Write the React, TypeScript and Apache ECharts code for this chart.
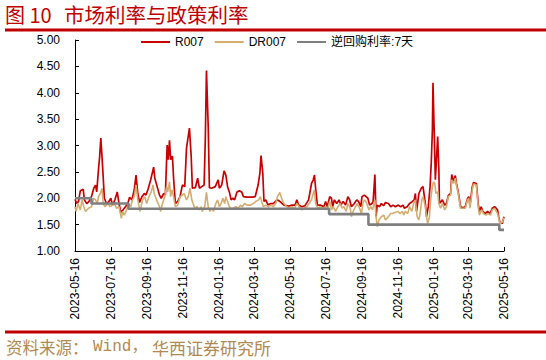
import React, { useEffect, useRef } from "react";
import * as echarts from "echarts";

const xTickLabels = [
  "2023-05-16", "2023-07-16", "2023-09-16", "2023-11-16", "2024-01-16", "2024-03-16",
  "2024-05-16", "2024-07-16", "2024-09-16", "2024-11-16", "2025-01-16", "2025-03-16", "2025-05-16",
];

const seriesNames = ["R007", "DR007", "逆回购利率:7天"];

const r007Dates = [
  "2023-05-16","2023-05-19","2023-05-22","2023-05-25","2023-05-30","2023-06-01","2023-06-05","2023-06-09","2023-06-13","2023-06-17",
  "2023-06-20","2023-06-22","2023-06-25","2023-06-27","2023-06-29","2023-07-01","2023-07-03","2023-07-05","2023-07-09","2023-07-13",
  "2023-07-16","2023-07-19","2023-07-23","2023-07-27","2023-07-30","2023-08-02","2023-08-06","2023-08-10","2023-08-14","2023-08-17",
  "2023-08-21","2023-08-25","2023-08-28","2023-08-31","2023-09-03","2023-09-07","2023-09-11","2023-09-14","2023-09-18","2023-09-22",
  "2023-09-27","2023-09-29","2023-10-03","2023-10-07","2023-10-10","2023-10-14","2023-10-17","2023-10-20","2023-10-22","2023-10-24",
  "2023-10-26","2023-10-29","2023-10-31","2023-11-03","2023-11-07","2023-11-11","2023-11-15","2023-11-19","2023-11-22","2023-11-27",
  "2023-11-30","2023-12-02","2023-12-07","2023-12-11","2023-12-14","2023-12-18","2023-12-22","2023-12-24","2023-12-26","2023-12-29",
  "2023-12-31","2024-01-04","2024-01-10","2024-01-15","2024-01-17","2024-01-21","2024-01-25","2024-01-28","2024-01-31","2024-02-03",
  "2024-02-06","2024-02-09","2024-02-12","2024-02-16","2024-02-20","2024-02-24","2024-02-27","2024-03-04","2024-03-13","2024-03-18",
  "2024-03-23","2024-03-26","2024-03-28","2024-03-31","2024-04-02","2024-04-05","2024-04-09","2024-04-13","2024-04-18","2024-04-24",
  "2024-04-28","2024-05-06","2024-05-14","2024-05-20","2024-05-25","2024-05-28","2024-05-31","2024-06-06","2024-06-11","2024-06-17",
  "2024-06-19","2024-06-22","2024-06-25","2024-06-27","2024-06-29","2024-07-02","2024-07-07","2024-07-13","2024-07-16","2024-07-19",
  "2024-07-23","2024-07-26","2024-07-28","2024-07-31","2024-08-04","2024-08-08","2024-08-11","2024-08-15","2024-08-19","2024-08-23",
  "2024-08-26","2024-08-29","2024-09-03","2024-09-07","2024-09-10","2024-09-14","2024-09-16","2024-09-20","2024-09-23","2024-09-26",
  "2024-09-29","2024-10-03","2024-10-05","2024-10-08","2024-10-10","2024-10-12","2024-10-16","2024-10-19","2024-10-23","2024-10-26",
  "2024-10-31","2024-11-04","2024-11-08","2024-11-12","2024-11-17","2024-11-21","2024-11-25","2024-11-27","2024-12-02","2024-12-06",
  "2024-12-10","2024-12-14","2024-12-16","2024-12-18","2024-12-22","2024-12-26","2024-12-29","2025-01-02","2025-01-04","2025-01-07",
  "2025-01-10","2025-01-12","2025-01-14","2025-01-15","2025-01-17","2025-01-19","2025-01-20","2025-01-23","2025-01-25","2025-01-26",
  "2025-01-31","2025-02-04","2025-02-07","2025-02-10","2025-02-14","2025-02-16","2025-02-19","2025-02-22","2025-02-24","2025-02-27",
  "2025-03-03","2025-03-07","2025-03-11","2025-03-15","2025-03-17","2025-03-19","2025-03-23","2025-03-25","2025-03-30","2025-04-02",
  "2025-04-04","2025-04-07","2025-04-10","2025-04-14","2025-04-18","2025-04-22","2025-04-26","2025-04-30","2025-05-05","2025-05-07",
  "2025-05-09","2025-05-13","2025-05-16",
];
const r007Values = [
  1.98,1.90,1.94,2.14,2.17,1.97,1.90,1.94,2.03,2.19,
  2.25,2.12,2.54,2.79,3.14,2.79,2.41,2.00,1.89,1.94,
  2.00,1.87,1.97,2.12,1.90,1.73,1.78,1.84,1.90,2.02,
  1.97,2.16,2.44,2.09,1.92,2.03,2.09,2.06,2.19,2.35,
  2.59,2.38,2.22,2.06,2.00,2.09,2.06,3.01,2.73,3.10,
  2.73,2.80,2.38,1.90,1.94,2.03,2.25,2.22,2.95,3.33,
  2.79,2.19,2.20,2.38,2.19,2.22,2.25,3.10,4.42,3.36,
  2.20,2.19,2.22,2.35,2.19,2.25,2.52,2.44,2.22,2.12,
  1.97,2.00,1.97,2.12,2.14,2.12,2.03,2.02,2.02,2.03,
  2.25,2.47,2.81,2.47,1.94,1.97,1.87,1.90,1.90,1.97,
  1.95,1.87,1.85,1.87,1.87,1.97,1.87,1.84,1.86,1.97,
  2.09,2.28,2.35,2.44,2.19,1.87,1.87,1.84,1.94,1.84,
  2.03,2.00,1.84,1.97,1.90,1.97,1.87,1.94,1.87,2.03,
  1.97,1.84,1.90,1.97,1.94,1.84,2.03,2.06,2.03,2.00,
  1.87,1.90,1.94,2.45,1.65,1.87,1.84,1.90,1.86,1.92,
  1.90,1.84,1.87,1.84,1.87,1.84,1.87,1.81,1.84,1.90,
  1.93,1.97,2.09,1.75,2.09,2.19,2.22,1.90,1.65,1.84,
  2.22,2.66,3.30,4.19,3.30,2.35,2.54,3.17,2.54,1.90,
  1.97,1.87,1.90,2.05,2.09,2.45,2.31,2.43,2.28,2.12,
  1.84,1.82,1.84,2.00,2.03,1.87,2.22,2.30,2.28,1.90,
  1.75,1.84,1.75,1.71,1.75,1.70,1.81,1.84,1.78,1.65,
  1.54,1.52,1.65,
];

const dr007Dates = [
  "2023-05-16","2023-05-18","2023-05-21","2023-05-25","2023-05-28","2023-05-31","2023-06-03","2023-06-08","2023-06-13","2023-06-17",
  "2023-06-20","2023-06-23","2023-06-25","2023-06-28","2023-07-01","2023-07-03","2023-07-06","2023-07-11","2023-07-15","2023-07-19",
  "2023-07-22","2023-07-26","2023-07-30","2023-08-03","2023-08-05","2023-08-08","2023-08-12","2023-08-15","2023-08-19","2023-08-22",
  "2023-08-25","2023-08-28","2023-08-31","2023-09-04","2023-09-08","2023-09-12","2023-09-15","2023-09-19","2023-09-23","2023-09-26",
  "2023-09-28","2023-10-02","2023-10-07","2023-10-09","2023-10-12","2023-10-16","2023-10-19","2023-10-21","2023-10-24","2023-10-26",
  "2023-10-28","2023-10-31","2023-11-03","2023-11-07","2023-11-11","2023-11-15","2023-11-18","2023-11-22","2023-11-25","2023-11-28",
  "2023-12-01","2023-12-06","2023-12-10","2023-12-14","2023-12-17","2023-12-19","2023-12-23","2023-12-26","2023-12-29","2024-01-01",
  "2024-01-04","2024-01-07","2024-01-11","2024-01-14","2024-01-17","2024-01-20","2024-01-23","2024-01-26","2024-01-28","2024-01-31",
  "2024-02-03","2024-02-06","2024-02-10","2024-02-14","2024-02-18","2024-02-22","2024-02-25","2024-02-29","2024-03-04","2024-03-10",
  "2024-03-15","2024-03-19","2024-03-24","2024-03-27","2024-03-29","2024-04-01","2024-04-05","2024-04-09","2024-04-14","2024-04-18",
  "2024-04-22","2024-04-25","2024-04-29","2024-05-03","2024-05-06","2024-05-11","2024-05-15","2024-05-20","2024-05-24","2024-05-28",
  "2024-06-01","2024-06-06","2024-06-09","2024-06-14","2024-06-18","2024-06-22","2024-06-25","2024-06-27","2024-06-29","2024-07-03",
  "2024-07-07","2024-07-11","2024-07-16","2024-07-19","2024-07-23","2024-07-26","2024-07-29","2024-08-02","2024-08-06","2024-08-10",
  "2024-08-13","2024-08-16","2024-08-20","2024-08-23","2024-08-27","2024-08-29","2024-09-02","2024-09-05","2024-09-08","2024-09-12",
  "2024-09-15","2024-09-18","2024-09-21","2024-09-24","2024-09-28","2024-10-01","2024-10-04","2024-10-08","2024-10-10","2024-10-12",
  "2024-10-15","2024-10-19","2024-10-23","2024-10-26","2024-10-31","2024-11-04","2024-11-07","2024-11-11","2024-11-16","2024-11-20",
  "2024-11-24","2024-11-26","2024-11-29","2024-12-03","2024-12-06","2024-12-10","2024-12-13","2024-12-16","2024-12-19","2024-12-22",
  "2024-12-24","2024-12-27","2024-12-29","2025-01-02","2025-01-04","2025-01-06","2025-01-09","2025-01-11","2025-01-14","2025-01-16",
  "2025-01-18","2025-01-20","2025-01-23","2025-01-25","2025-01-28","2025-01-31","2025-02-04","2025-02-07","2025-02-10","2025-02-14",
  "2025-02-16","2025-02-19","2025-02-22","2025-02-24","2025-02-27","2025-03-03","2025-03-07","2025-03-11","2025-03-15","2025-03-17",
  "2025-03-19","2025-03-23","2025-03-25","2025-03-30","2025-04-02","2025-04-04","2025-04-08","2025-04-11","2025-04-15","2025-04-19",
  "2025-04-23","2025-04-26","2025-04-30","2025-05-05","2025-05-07","2025-05-09","2025-05-13","2025-05-16",
];
const dr007Values = [
  1.84,1.75,1.90,1.78,1.97,1.84,1.75,1.81,1.84,2.00,
  1.97,1.90,2.03,2.09,2.19,1.90,1.84,1.90,1.84,1.87,
  1.90,1.81,1.84,1.62,1.75,1.68,1.78,1.90,1.84,1.97,
  2.03,2.25,1.97,1.75,1.97,2.03,1.90,2.03,2.12,2.25,
  2.09,1.97,1.84,1.75,1.90,2.03,2.22,2.12,2.31,2.03,
  2.16,2.03,1.84,1.87,2.03,2.06,2.09,1.97,2.03,2.19,
  1.97,1.81,1.84,1.78,1.84,1.75,1.84,2.11,1.84,1.75,
  1.81,1.75,1.90,1.97,1.84,1.90,2.00,1.90,2.03,1.94,
  1.84,1.81,1.81,1.84,1.81,1.87,1.84,1.90,1.87,1.87,
  1.90,1.94,1.97,2.03,1.94,1.84,1.87,1.84,1.87,1.84,
  1.90,2.03,2.11,1.97,1.90,1.84,1.82,1.84,1.81,1.90,
  1.84,1.78,1.81,1.84,1.90,1.97,2.09,2.16,1.90,1.81,
  1.84,1.81,1.84,1.78,1.94,1.78,1.84,1.75,1.84,1.90,
  1.81,1.84,1.75,1.90,1.81,1.65,1.78,1.84,1.90,1.81,
  1.71,1.93,1.97,1.90,1.78,1.84,1.78,1.97,1.65,1.46,
  1.59,1.65,1.68,1.59,1.65,1.71,1.71,1.73,1.75,1.71,
  1.75,1.68,1.75,1.71,1.84,1.75,1.90,1.97,1.65,1.59,
  1.71,1.97,2.03,1.84,1.65,1.52,1.65,1.97,2.22,2.31,
  2.28,2.09,2.12,1.90,1.81,1.90,1.78,1.84,2.03,2.06,
  2.35,2.28,2.38,2.25,2.09,1.81,1.81,1.81,1.97,2.00,
  1.81,2.16,2.27,2.25,1.84,1.68,1.78,1.71,1.68,1.71,
  1.68,1.78,1.81,1.71,1.62,1.52,1.55,1.63,
];

const policyDates = ["2023-05-16", "2023-06-13", "2023-08-15", "2024-07-22", "2024-09-27", "2025-05-08", "2025-05-16"];
const policyValues = [2.0, 1.9, 1.8, 1.7, 1.5, 1.4, 1.4];

const yMin = 1;
const yMax = 5;
const yInterval = 0.5;

const toTs = (s: string) => {
  const [y, m, d] = s.split("-").map(Number);
  return new Date(y, m - 1, d).getTime();
};
const pad = (n: number) => (n < 10 ? "0" + n : "" + n);
const fmtDate = (v: number) => {
  const d = new Date(v);
  return d.getFullYear() + "-" + pad(d.getMonth() + 1) + "-" + pad(d.getDate());
};
const pairs = (dates: string[], vals: number[]) => dates.map((d, i) => [toTs(d), vals[i]]);

const CJK = '"Noto Sans CJK SC"';
const LEGEND_FONT = '"Liberation Sans", "Noto Sans CJK SC", sans-serif';

export default function App() {
  const ref = useRef<HTMLDivElement>(null);
  useEffect(() => {
    const chart = echarts.init(ref.current!, null, { renderer: "svg", width: 546, height: 360 });
    const tickTs = xTickLabels.map(toTs);
    chart.setOption({
      animation: false,
      backgroundColor: "#ffffff",
      textStyle: { fontFamily: LEGEND_FONT },
      graphic: [
        {
          type: "text",
          x: 5,
          y: 14,
          style: { text: "图 10", fill: "#C00000", font: "20px " + CJK, verticalAlign: "middle" },
        },
        {
          type: "text",
          x: 64,
          y: 14,
          style: { text: "市场利率与政策利率", fill: "#C00000", font: "20.5px " + CJK, verticalAlign: "middle" },
        },
        { type: "rect", shape: { x: 5, y: 28.5, width: 541, height: 3 }, style: { fill: "#C00000" } },
        { type: "rect", shape: { x: 5, y: 330.5, width: 541, height: 3 }, style: { fill: "#C00000" } },
        {
          type: "text",
          x: 6,
          y: 347,
          style: { text: "资料来源：", fill: "#B08A52", font: "16.5px " + CJK, verticalAlign: "middle" },
        },
        {
          type: "text",
          x: 93,
          y: 347,
          style: { text: "Wind，", fill: "#B08A52", font: '16px "Liberation Mono", ' + CJK, verticalAlign: "middle" },
        },
        {
          type: "text",
          x: 152,
          y: 347,
          style: { text: "华西证券研究所", fill: "#B08A52", font: "17px " + CJK, verticalAlign: "middle" },
        },
      ],
      legend: {
        left: 141,
        top: 36,
        padding: 0,
        itemWidth: 29,
        itemHeight: 2,
        itemGap: 11,
        icon: "rect",
        textStyle: { fontSize: 12, color: "#000", fontFamily: LEGEND_FONT },
        data: seriesNames,
      },
      grid: { left: 75, right: 42, top: 40, bottom: 109 },
      xAxis: {
        type: "value",
        min: tickTs[0],
        max: tickTs[tickTs.length - 1],
        scale: true,
        axisLine: { show: true, lineStyle: { color: "#000", width: 1 } },
        axisTick: { show: true, inside: true, length: 4, customValues: tickTs, lineStyle: { color: "#000" } },
        axisLabel: {
          customValues: tickTs,
          rotate: 90,
          margin: 7,
          fontSize: 12,
          color: "#000",
          fontFamily: "Liberation Sans, Arial, sans-serif",
          formatter: (v: number) => fmtDate(v),
        },
        splitLine: { show: false },
      },
      yAxis: {
        type: "value",
        min: yMin,
        max: yMax,
        interval: yInterval,
        axisLine: { show: true, lineStyle: { color: "#000", width: 1 } },
        axisTick: { show: true, inside: true, length: 4, lineStyle: { color: "#000" } },
        axisLabel: {
          margin: 15,
          fontSize: 12,
          color: "#000",
          fontFamily: "Liberation Sans, Arial, sans-serif",
          formatter: (v: number) => v.toFixed(2),
        },
        splitLine: { show: false },
      },
      series: [
        {
          name: seriesNames[0],
          type: "line",
          symbol: "none",
          data: pairs(r007Dates, r007Values),
          lineStyle: { color: "#C80000", width: 1.7 },
          itemStyle: { color: "#C80000" },
        },
        {
          name: seriesNames[1],
          type: "line",
          symbol: "none",
          data: pairs(dr007Dates, dr007Values),
          lineStyle: { color: "#D4AC70", width: 1.6 },
          itemStyle: { color: "#D4AC70" },
        },
        {
          name: seriesNames[2],
          type: "line",
          symbol: "none",
          step: "end",
          data: pairs(policyDates, policyValues),
          lineStyle: { color: "#7F7F7F", width: 2.6 },
          itemStyle: { color: "#7F7F7F" },
        },
      ],
    });
    return () => chart.dispose();
  }, []);
  return (
    <div
      ref={ref}
      style={{ position: "absolute", left: 0, top: 0, width: 546, height: 360, background: "#fff" }}
    />
  );
}
